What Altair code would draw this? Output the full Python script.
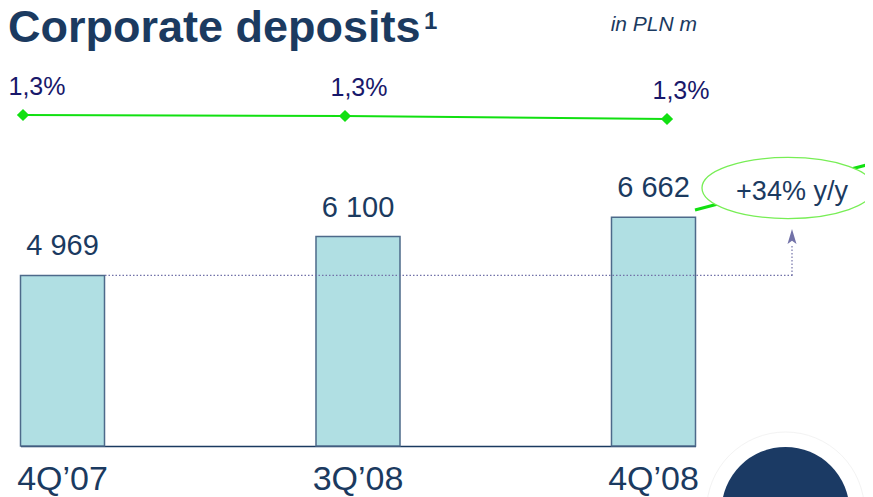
import altair as alt
import pandas as pd

# ---- data ----
quarters = ["4Q’07", "3Q’08", "4Q’08"]
deposits = [4969, 6100, 6662]
deposit_labels = ["4 969", "6 100", "6 662"]
margin_values = [1.32, 1.31, 1.28]
margin_labels = ["1,3%", "1,3%", "1,3%"]
growth_label = "+34% y/y"
title_text = "Corporate deposits"
title_note = "1"
unit_text = "in PLN m"

NAVY = "#1b3a60"
INDIGO = "#18186a"
GREEN = "#11e011"
BAR_FILL = "#b0dfe3"
BAR_STROKE = "#4d6a8a"
DOT = "#7272a8"
FONT = "Liberation Sans"

bars_df = pd.DataFrame({"quarter": quarters, "deposits": deposits, "label": deposit_labels})
line_df = pd.DataFrame({"quarter": quarters, "margin": margin_values, "label": margin_labels})
ref_df = pd.DataFrame({"deposits": [deposits[0]]})
one = pd.DataFrame({"k": [0]})

# ---- bar group ----
x_bar = alt.X(
    "quarter:N", sort=quarters,
    scale=alt.Scale(type="band", range=[12.5, 687.5], paddingInner=0.7157, paddingOuter=0),
    axis=alt.Axis(title=None, labelAngle=0, labelFont=FONT, labelFontSize=34, labelColor=NAVY,
                  labelPadding=43, labelBaseline="alphabetic", ticks=False, tickSize=0,
                  domainColor=NAVY, domainWidth=1.5, grid=False),
)
y_bar = alt.Y("deposits:Q", scale=alt.Scale(domain=[0, 12760], nice=False, zero=True), axis=None)

bars = alt.Chart(bars_df).mark_bar(fill=BAR_FILL, stroke=BAR_STROKE, strokeWidth=1.5).encode(x=x_bar, y=y_bar)
bar_text = alt.Chart(bars_df).mark_text(
    font=FONT, fontSize=29, color=NAVY, baseline="alphabetic", dy=-20
).encode(x=x_bar, y=y_bar, text="label:N")

ref_h = alt.Chart(ref_df).mark_rule(color=DOT, strokeDash=[1.5, 2], strokeWidth=1.2).encode(
    y=alt.Y("deposits:Q", axis=None), x=alt.value(97), x2=alt.value(785)
)
ref_v = alt.Chart(ref_df).mark_rule(color=DOT, strokeDash=[1.5, 2], strokeWidth=1.2).encode(
    y=alt.Y("deposits:Q", axis=None), y2=alt.value(236), x=alt.value(784)
)
arrow = alt.Chart(one).mark_point(
    shape="M0,-1L-0.6,1L0,0.55L0.6,1Z", filled=True, fill=DOT, size=225, opacity=1, strokeWidth=0
).encode(x=alt.value(784), y=alt.value(228.5))

bar_group = alt.layer(bars, bar_text, ref_h, ref_v, arrow)

# ---- margin line group ----
x_line = alt.X("quarter:N", sort=quarters, scale=alt.Scale(type="point", range=[15, 659], padding=0), axis=None)
y_line = alt.Y("margin:Q", scale=alt.Scale(domain=[1.2, 1.4], range=[119, 99], zero=False, nice=False), axis=None)

line = alt.Chart(line_df).mark_line(color=GREEN, strokeWidth=2).encode(x=x_line, y=y_line)
pts = alt.Chart(line_df).mark_point(shape="diamond", filled=True, size=150, color=GREEN, opacity=1).encode(x=x_line, y=y_line)
line_text = alt.Chart(line_df).mark_text(
    font=FONT, fontSize=25, color=INDIGO, baseline="alphabetic", dx=14, dy=-20
).encode(x=x_line, y=y_line, text="label:N")

line_group = alt.layer(line, pts, line_text)

# ---- decorations / annotations ----
pointer = alt.Chart(one).mark_rule(color=GREEN, strokeWidth=3).encode(
    x=alt.value(687), y=alt.value(202), x2=alt.value(866), y2=alt.value(155)
)
ellipse = alt.Chart(one).mark_point(
    shape="M-1,0A1,0.355,0,1,0,1,0A1,0.355,0,1,0,-1,0Z", filled=True, fill="white",
    stroke="#77ee55", strokeWidth=1.3, size=172 ** 2, opacity=1, fillOpacity=1, strokeOpacity=1
).encode(x=alt.value(780), y=alt.value(180))
ellipse_text = alt.Chart(one).mark_text(
    font=FONT, fontSize=27, color=NAVY, baseline="alphabetic", align="center"
).encode(x=alt.value(784), y=alt.value(192), text=alt.value(growth_label))
ring = alt.Chart(one).mark_point(
    shape="circle", filled=False, size=158 ** 2, stroke="#f3f3f3", strokeWidth=1, opacity=1
).encode(x=alt.value(777.5), y=alt.value(503))
circle = alt.Chart(one).mark_point(
    shape="circle", filled=True, size=128 ** 2, color="#1b3a64", opacity=1
).encode(x=alt.value(777.5), y=alt.value(503))
title = alt.Chart(one).mark_text(
    font=FONT, fontSize=45, fontWeight="bold", color=NAVY, align="left", baseline="alphabetic"
).encode(x=alt.value(0), y=alt.value(34), text=alt.value(title_text))
sup = alt.Chart(one).mark_text(
    font=FONT, fontSize=24, fontWeight="bold", color=NAVY, align="left", baseline="alphabetic"
).encode(x=alt.value(416), y=alt.value(21), text=alt.value(title_note))
unit = alt.Chart(one).mark_text(
    font=FONT, fontSize=21, fontStyle="italic", color=NAVY, align="right", baseline="alphabetic"
).encode(x=alt.value(689), y=alt.value(23), text=alt.value(unit_text))

deco = alt.layer(pointer, ellipse, ellipse_text, ring, circle, title, sup, unit)

chart = alt.layer(bar_group, line_group, deco).resolve_scale(
    x="independent", y="independent"
).properties(
    width=857, height=438,
    autosize=alt.AutoSizeParams(type="none"),
    padding={"left": 0, "top": 0, "right": 0, "bottom": 51},
).configure_view(stroke=None)

chart.save("out.html", embed_options={"renderer": "svg", "actions": False})
